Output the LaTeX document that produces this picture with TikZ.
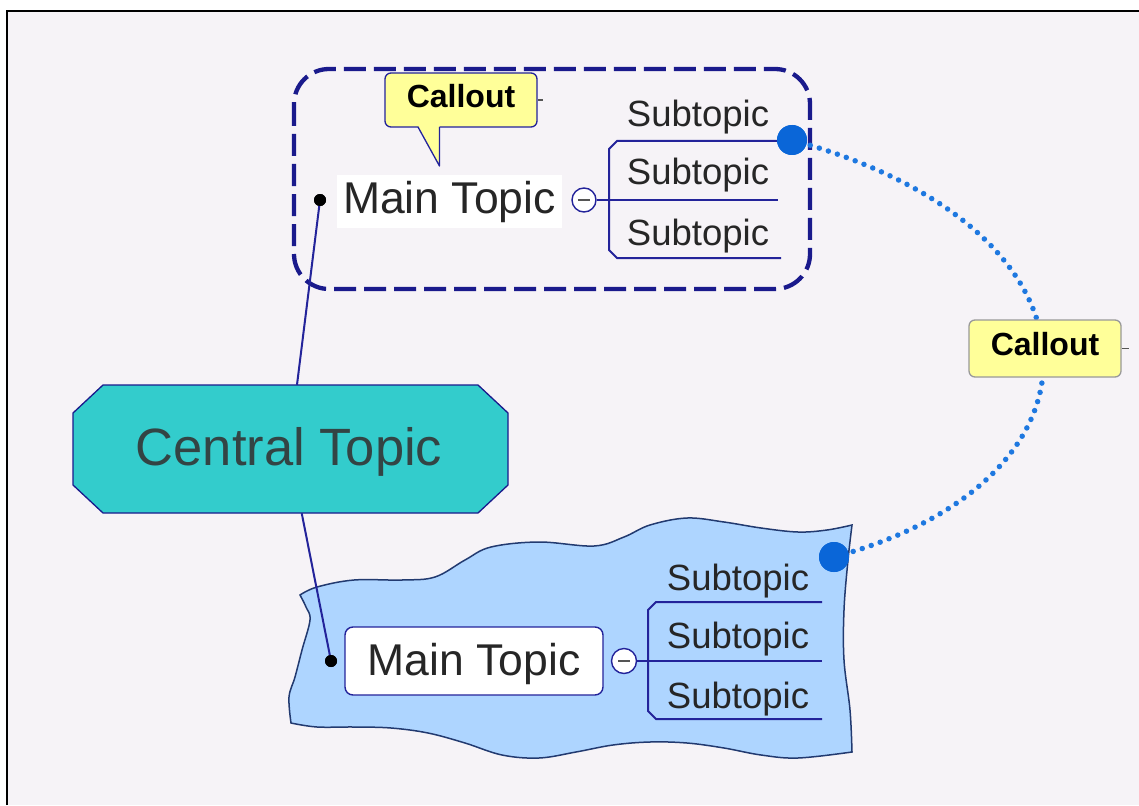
\documentclass[tikz,border=0pt]{standalone}
\usepackage{fontspec}
\setmainfont{Liberation Sans}
\definecolor{bg}{HTML}{F6F3F7}
\definecolor{navy}{HTML}{1A1A8C}
\definecolor{linenavy}{HTML}{23239A}
\definecolor{tealfill}{HTML}{33CCCC}
\definecolor{cyellow}{HTML}{FFFF99}
\definecolor{wavefill}{HTML}{AED5FF}
\definecolor{waveborder}{HTML}{223A70}
\definecolor{bluedot}{HTML}{0A66D8}
\definecolor{dotblue}{HTML}{1E78E0}
\definecolor{txt}{HTML}{262626}
\definecolor{ctxt}{HTML}{334444}
\definecolor{minusgray}{HTML}{555555}
\begin{document}
\begin{tikzpicture}[x=1pt,y=-1pt,
  conn/.style={draw=linenavy, line width=2pt},
  brack/.style={draw=linenavy, line width=2pt},
  dotnode/.style={circle, fill=black, minimum size=12pt, inner sep=0pt},
  collapse/.style={circle, draw=linenavy, line width=1.4pt, fill=white, minimum size=24pt, inner sep=0pt},
  blueball/.style={circle, fill=bluedot, minimum size=30pt, inner sep=0pt},
  subtopic/.style={anchor=base, inner sep=0pt, text=txt, font=\fontsize{36.5}{42}\selectfont},
  maintopic/.style={inner sep=0pt, text=txt, font=\fontsize{44.5}{50}\selectfont},
  callout/.style={rectangle, rounded corners=6pt, fill=cyellow, line width=1.3pt, inner sep=0pt, text=black, font=\bfseries\fontsize{32}{38}\selectfont},
]
\useasboundingbox (0,0) rectangle (1139,805);
% frame and background
\fill[white] (0,0) rectangle (1139,805);
\fill[bg] (7,11) rectangle (1139,805);
\draw[black, line width=2.6pt] (7,805) -- (7,11) -- (1139,11);

% wavy boundary of lower group
\filldraw[fill=wavefill, draw=waveborder, line width=1.5pt]
  plot[smooth, tension=0.6] coordinates {(300,595) (317,587) (354,580) (402,580) (435,577) (465,560) (491,547) (539,542) (594,546) (624,537) (650,525) (687,518) (724,522) (761,528) (798,532) (827,530) (852,525)}
  -- plot[smooth, tension=0.6] coordinates {(852,525) (848,560) (844,610) (844,660) (850,710) (852,752)}
  -- plot[smooth, tension=0.6] coordinates {(852,752) (798,758) (761,755) (724,748) (687,743) (650,742) (613,745) (576,752) (539,758) (502,755) (465,743) (428,733) (391,728) (354,727) (317,727) (291,723)}
  -- plot[smooth, tension=0.6] coordinates {(291,723) (289,697) (295,677) (302,650) (310,620) (306,607) (300,595)}
  -- cycle;

% dashed boundary of upper group
\draw[navy, line width=4.3pt, dash pattern=on 22pt off 8pt, rounded corners=35pt] (294,69) rectangle (810,289);

% central topic octagon
\filldraw[fill=tealfill, draw=navy, line width=1.3pt] (103,385) -- (478,385) -- (508,413) -- (508,485) -- (478,513) -- (103,513) -- (73,485) -- (73,413) -- cycle;
\node[inner sep=0pt, minimum width=435pt, minimum height=128pt, text height=32pt, text depth=0pt, text=ctxt, font=\fontsize{52.5}{58}\selectfont] (ct) at (289,449) {Central Topic};

% main topic nodes
\node[dotnode] (d1) at (320,200) {};
\node[dotnode] (d2) at (331,661) {};
\draw[conn] (ct) -- (d1.center);
\draw[conn] (ct) -- (d2.center);
\node[dotnode] at (d1.center) {};
\node[dotnode] at (d2.center) {};

\node[maintopic, fill=white, minimum width=225pt, minimum height=53pt, text height=23pt, text depth=0pt] (mt1) at (449.5,201.5) {Main Topic};
\node[maintopic, fill=white, draw=linenavy, line width=1.4pt, rounded corners=8pt, minimum width=258pt, minimum height=68pt, text height=28pt, text depth=0pt] (mt2) at (474,661) {Main Topic};

% upper subtopics
\node[collapse] (col1) at (584,200) {\textcolor{minusgray}{\rule[-1.3pt]{12pt}{2.8pt}}};
\coordinate (u1) at (790,141);
\coordinate (u2) at (778,200);
\coordinate (u3) at (781,258);
\draw[brack] (u1) -- (617,141) -- (609,149) -- (609,250) -- (617,258) -- (u3);
\draw[brack] (col1.east) -- (u2);
\node[subtopic] (s11) at (698,126.5) {Subtopic};
\node[subtopic] (s12) at (698,185) {Subtopic};
\node[subtopic] (s13) at (698,245) {Subtopic};

% lower subtopics
\node[collapse, minimum size=25pt] (col2) at (624,661) {\textcolor{minusgray}{\rule[-1.3pt]{12pt}{2.8pt}}};
\coordinate (v1) at (822,602);
\coordinate (v2) at (822,661);
\coordinate (v3) at (822,719);
\draw[brack] (v1) -- (656,602) -- (648,610) -- (648,711) -- (656,719) -- (v3);
\draw[brack] (col2.east) -- (v2);
\node[subtopic] (s21) at (738,590) {Subtopic};
\node[subtopic] (s22) at (738,648) {Subtopic};
\node[subtopic] (s23) at (738,708) {Subtopic};

% relationship (dotted) between the two groups
\node[blueball] (b1) at (792,140) {};
\node[blueball] (b2) at (834,557) {};
\draw[dotblue, line width=5.5pt, line cap=round, dash pattern=on 0pt off 9.5pt]
  (b1.center) .. controls (1120,230) and (1120,480) .. (b2.center);
\node[blueball] at (b1.center) {};
\node[blueball] at (b2.center) {};

% callouts
\node[callout, draw=linenavy, minimum width=152pt, minimum height=54pt, text height=16pt, text depth=0pt] (callout1) at (461,100) {Callout};
\fill[cyellow] (417.5,124.5) -- (439.5,166) -- (439.5,124.5) -- cycle;
\draw[linenavy, line width=1.3pt, line join=round] (418,127) -- (439.5,166) -- (439.5,127);
\draw[minusgray, line width=1.3pt] (callout1.east) -- ++(5,0);

\node[callout, draw=gray!80, minimum width=152pt, minimum height=57pt, text height=14pt, text depth=0pt] (callout2) at (1045,348.5) {Callout};
\draw[minusgray, line width=1.3pt] (callout2.east) -- ++(7,0);
\end{tikzpicture}
\end{document}
